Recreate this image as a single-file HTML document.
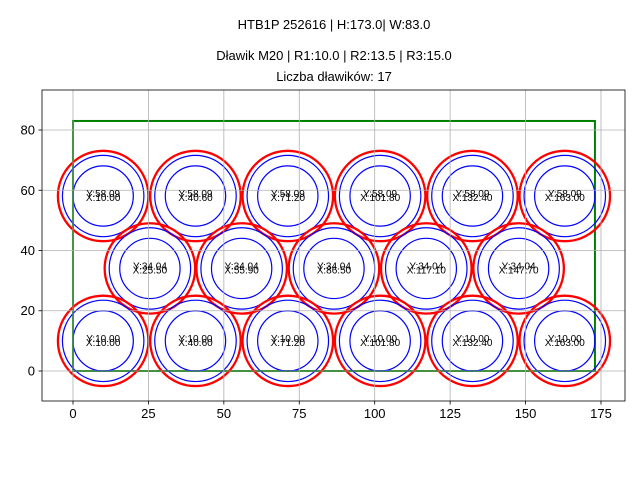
<!DOCTYPE html>
<html><head><meta charset="utf-8">
<style>
body{margin:0;background:#fff;}
svg{display:block;font-family:"Liberation Sans","DejaVu Sans",sans-serif;}
</style></head>
<body>
<svg id="chart" width="640" height="480" viewBox="0 0 640 480">
<rect width="640" height="480" fill="#fff"/>
<text x="334" y="29" font-size="13" text-anchor="middle">HTB1P 252616 | H:173.0| W:83.0</text>
<text x="334" y="60" font-size="13" text-anchor="middle">Dławik M20 | R1:10.0 | R2:13.5 | R3:15.0</text>
<text x="334" y="81" font-size="13" text-anchor="middle">Liczba dławików: 17</text>
<g id="plot"></g>
</svg>
<script>
const cx = [10, 40.6, 71.2, 101.8, 132.4, 163, 25.5, 55.9, 86.5, 117.1, 147.7, 10, 40.6, 71.2, 101.8, 132.4, 163];
const cy = [58.09, 58.09, 58.09, 58.09, 58.09, 58.09, 34.04, 34.04, 34.04, 34.04, 34.04, 10, 10, 10, 10, 10, 10];
const radii = [15, 13.5, 10];
const boxW = 173, boxH = 83;
const xTicks = [0, 25, 50, 75, 100, 125, 150, 175];
const yTicks = [0, 20, 40, 60, 80];

const NS = "http://www.w3.org/2000/svg";
const L = 42, R = 625, T = 90, B = 401;
const xmin = -10.27, xmax = 182.96, ymin = -9.96, ymax = 93.28;
const sx = v => L + (v - xmin) / (xmax - xmin) * (R - L);
const sy = v => B - (v - ymin) / (ymax - ymin) * (B - T);
const kx = (R - L) / (xmax - xmin), ky = (B - T) / (ymax - ymin);
const g = document.getElementById('plot');
function mk(tag, attrs, parent) {
  const e = document.createElementNS(NS, tag);
  for (const k in attrs) e.setAttribute(k, attrs[k]);
  (parent || g).appendChild(e);
  return e;
}
// enclosure
const box = mk('rect', {x: sx(0), y: sy(boxH), width: sx(boxW) - sx(0), height: sy(0) - sy(boxH), fill: 'none', stroke: '#008000', 'stroke-width': 2});


// circles
for (let i = 0; i < cx.length; i++) {
  const grp = mk('g', {});
  
  
  radii.forEach((r, j) => {
    const c = mk('ellipse', {cx: sx(cx[i]), cy: sy(cy[i]), rx: r * kx, ry: r * ky, fill: 'none',
      stroke: j === 0 ? '#ff0000' : '#0000ff', 'stroke-width': j === 0 ? 2.3 : 1.2}, grp);
    
    
  });
}
// grid
xTicks.forEach(t => {
  const l = mk('line', {x1: sx(t), x2: sx(t), y1: T, y2: B, stroke: '#b0b0b0', 'stroke-width': 0.8});
  
  
  const tk = mk('line', {x1: sx(t), x2: sx(t), y1: B, y2: B + 3.5, stroke: '#000', 'stroke-width': 0.8});
  
  
  const tx = mk('text', {x: sx(t), y: B + 17, 'font-size': 13, 'text-anchor': 'middle'});
  tx.textContent = t;
  
  
});
yTicks.forEach(t => {
  const l = mk('line', {x1: L, x2: R, y1: sy(t), y2: sy(t), stroke: '#b0b0b0', 'stroke-width': 0.8});
  
  
  const tk = mk('line', {x1: L - 3.5, x2: L, y1: sy(t), y2: sy(t), stroke: '#000', 'stroke-width': 0.8});
  
  
  const tx = mk('text', {x: L - 7, y: sy(t) + 4.5, 'font-size': 13, 'text-anchor': 'end'});
  tx.textContent = t;
  
  
});
// labels
for (let i = 0; i < cx.length; i++) {
  const a = mk('text', {x: sx(cx[i]), y: sy(cy[i]) + 1, 'font-size': 10, 'text-anchor': 'middle', fill: '#000'});
  a.textContent = 'Y:' + cy[i].toFixed(2);
  
  
  const b = mk('text', {x: sx(cx[i]), y: sy(cy[i]) + 5, 'font-size': 10, 'text-anchor': 'middle', fill: '#000'});
  b.textContent = 'X:' + cx[i].toFixed(2);
  
  
}
const frame = mk('rect', {x: L, y: T, width: R - L, height: B - T, fill: 'none', stroke: '#000', 'stroke-width': 0.8});


</script>
</body></html>
